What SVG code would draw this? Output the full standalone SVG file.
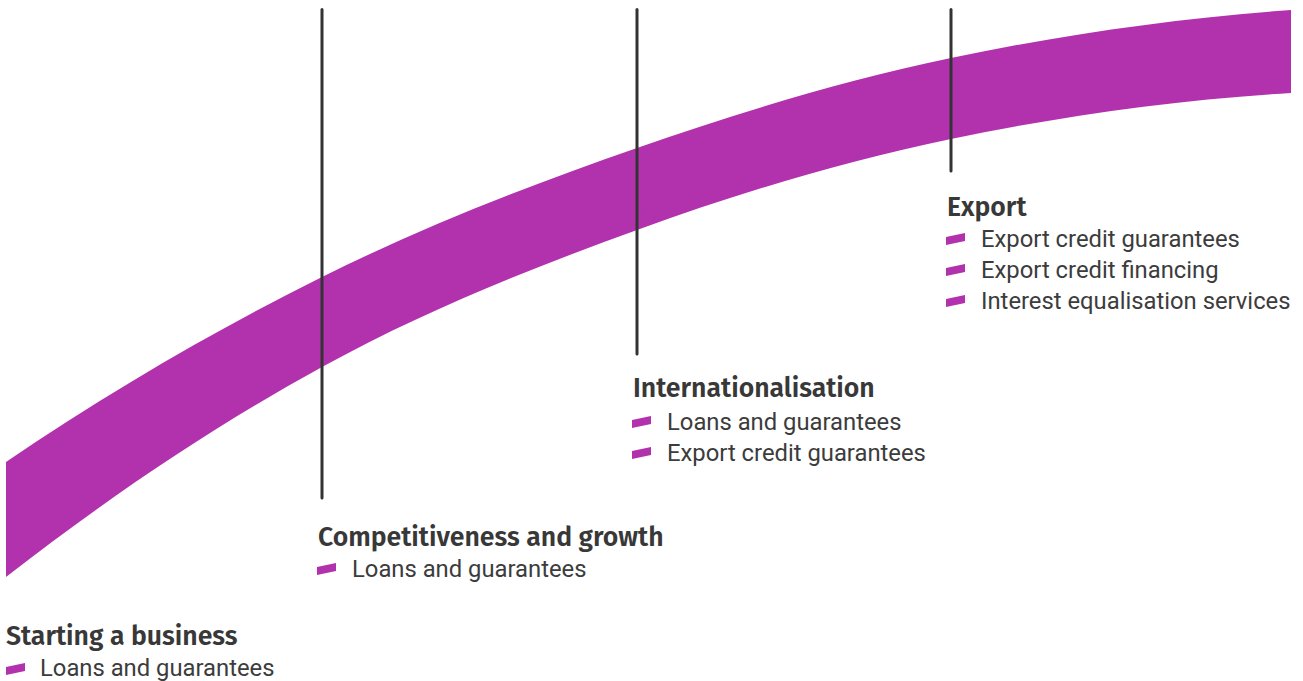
<svg xmlns="http://www.w3.org/2000/svg" width="1303" height="681" viewBox="0 0 1303 681">
<defs>
<style>
.band{fill:#b232ae}
.vline{stroke:#333;stroke-width:3;stroke-linecap:round;fill:none}
.head{font-family:"Fira Sans","Noto Sans","Open Sans",sans-serif;font-weight:600;font-size:26.6px;fill:#383838}
.item{font-family:Roboto,"Liberation Sans",sans-serif;font-size:23.8px;fill:#3c3c3c}
.bul{fill:#b232ae}
</style>
<path id="b" d="M0,4 L19,0 L19,8 L0,12 Z"/>
</defs>
<rect width="1303" height="681" fill="#fff"/>
<path class="band" d="M6,462 C111.3,390.3 216.8,329.3 322,277 C427.2,224.7 532.2,184.5 637,148 C741.8,111.5 842,81 951,58 C1060,35 1177.7,18 1291,10 L1291,93 C1177.7,99.7 1060,116.2 951,139 C842,161.8 741.8,192 637,230 C532.2,268 427.2,309.2 322,367 C216.8,424.8 111.3,495 6,577 Z"/>
<g id="connectors">
<line class="vline" x1="322" y1="9.5" x2="322" y2="498"/>
<line class="vline" x1="637" y1="9.5" x2="637" y2="354"/>
<line class="vline" x1="951" y1="9.5" x2="951" y2="171"/>
</g>
<g id="node-start">
<text class="head" x="6" y="645">Starting a business</text>
<use href="#b" class="bul" x="6" y="663"/>
<text class="item" x="40" y="676">Loans and guarantees</text>
</g>
<g id="node-growth">
<text class="head" x="318" y="546">Competitiveness and growth</text>
<use href="#b" class="bul" x="317" y="563"/>
<text class="item" x="352" y="577">Loans and guarantees</text>
</g>
<g id="node-intl">
<text class="head" x="633" y="397">Internationalisation</text>
<use href="#b" class="bul" x="632" y="416"/>
<text class="item" x="667" y="430">Loans and guarantees</text>
<use href="#b" class="bul" x="632" y="447"/>
<text class="item" x="667" y="461">Export credit guarantees</text>
</g>
<g id="node-export">
<text class="head" x="947" y="216">Export</text>
<use href="#b" class="bul" x="946" y="233"/>
<text class="item" x="981" y="247">Export credit guarantees</text>
<use href="#b" class="bul" x="946" y="264"/>
<text class="item" x="981" y="278">Export credit financing</text>
<use href="#b" class="bul" x="946" y="295"/>
<text class="item" x="981" y="309">Interest equalisation services</text>
</g>
</svg>
